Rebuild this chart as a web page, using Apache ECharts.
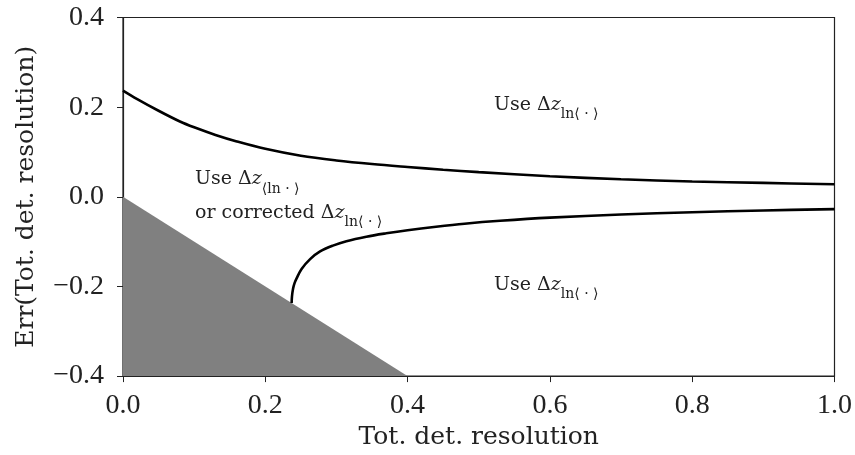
<!DOCTYPE html>
<html>
<head>
<meta charset="utf-8">
<script src="https://cdn.jsdelivr.net/npm/echarts@6/dist/echarts.min.js"></script>
<style>
html, body { margin: 0; padding: 0; background: #fff; }
#main { width: 855px; height: 455px; }
</style>
</head>
<body>
<div id="main"></div>
<script>
// boundary curves
var upperX = [0, 0.02, 0.05, 0.08, 0.10, 0.13, 0.16, 0.20, 0.25, 0.30, 0.35, 0.40, 0.45, 0.50, 0.60, 0.70, 0.80, 0.90, 1.00];
var upperY = [0.237, 0.218, 0.192, 0.168, 0.155, 0.138, 0.1235, 0.107, 0.0915, 0.081, 0.073, 0.0665, 0.0605, 0.055, 0.046, 0.039, 0.034, 0.031, 0.028];
var lowerX = [0.237, 0.2375, 0.239, 0.241, 0.244, 0.251, 0.263, 0.277, 0.295, 0.314, 0.342, 0.37, 0.40, 0.44, 0.48, 0.53, 0.60, 0.70, 0.80, 0.90, 1.00];
var lowerY = [-0.237, -0.222, -0.205, -0.193, -0.182, -0.161, -0.139, -0.122, -0.109, -0.099, -0.089, -0.0815, -0.0746, -0.0668, -0.060, -0.0535, -0.0465, -0.0395, -0.0345, -0.0305, -0.0275];
// shaded (excluded) triangle
var shadeX = [0, 0.4];
var shadeY = [0, -0.4];

function zip(a, b) {
    var out = [];
    for (var i = 0; i < a.length; i++) out.push([a[i], b[i]]);
    return out;
}

var chartDom = document.getElementById('main');
var myChart = echarts.init(chartDom);
var option;

var serif = '"DejaVu Serif", serif';
var tickFont = '"Liberation Serif", serif';
var mainFont = '19px ' + serif;
var italFont = 'italic 19px ' + serif;
var subFont = '14px ' + serif;

var ctx = document.createElement('canvas').getContext('2d');
function textW(t, f) { ctx.font = f; return ctx.measureText(t).width; }

// pieces: [text, font, dy]
function label(x, y, pieces) {
    var els = [];
    var cx = x;
    pieces.forEach(function (p) {
        els.push({ type: 'text', left: cx, top: y + p[2],
                   style: { text: p[0], font: p[1], fill: '#222' } });
        cx += textW(p[0], p[1]);
    });
    return els;
}

var subLn = 'ln\u27e8 \u00b7 \u27e9';
var subAvg = '\u27e8ln \u00b7 \u27e9';

option = {
    animation: false,
    backgroundColor: '#fff',
    grid: {
        left: 123,
        right: 20,
        top: 17.5,
        bottom: 75.5,
        show: true,
        borderColor: '#222',
        borderWidth: 1.2
    },
    xAxis: {
        type: 'value',
        min: 0,
        max: 1,
        interval: 0.2,
        name: 'Tot. det. resolution',
        nameLocation: 'middle',
        nameGap: 46,
        nameTextStyle: { fontFamily: serif, fontSize: 25, color: '#222' },
        axisLine: { show: true, onZero: false, lineStyle: { color: '#222', width: 1.2 } },
        axisTick: { show: true, length: 6, lineStyle: { color: '#222' } },
        axisLabel: {
            margin: 16,
            fontFamily: tickFont,
            fontSize: 28,
            color: '#222',
            formatter: function (v) { return v.toFixed(1); }
        },
        splitLine: { show: false }
    },
    yAxis: {
        type: 'value',
        min: -0.4,
        max: 0.4,
        interval: 0.2,
        name: 'Err(Tot. det. resolution)',
        nameLocation: 'middle',
        nameGap: 84,
        nameTextStyle: { fontFamily: serif, fontSize: 25, color: '#222' },
        axisLine: { show: true, onZero: false, lineStyle: { color: '#222', width: 1.2 } },
        axisTick: { show: true, length: 6, lineStyle: { color: '#222' } },
        axisLabel: {
            margin: 19,
            fontFamily: tickFont,
            fontSize: 28,
            color: '#222',
            formatter: function (v) {
                var s = Math.abs(v).toFixed(1);
                return v < -1e-9 ? '\u2212' + s : s;
            }
        },
        splitLine: { show: false }
    },
    graphic: []
        .concat(label(494, 96, [['Use \u0394', mainFont, 0], ['z', italFont, 0], [subLn, subFont, 11]]))
        .concat(label(494, 276, [['Use \u0394', mainFont, 0], ['z', italFont, 0], [subLn, subFont, 11]]))
        .concat(label(195, 170, [['Use \u0394', mainFont, 0], ['z', italFont, 0], [subAvg, subFont, 12]]))
        .concat(label(195, 204, [['or corrected \u0394', mainFont, 0], ['z', italFont, 0], [subLn, subFont, 11]])),
    series: [
        {
            name: 'excluded',
            type: 'line',
            symbol: 'none',
            data: zip(shadeX, shadeY),
            lineStyle: { width: 0 },
            areaStyle: { color: '#808080', opacity: 1, origin: 'start' },
            z: 1
        },
        {
            name: 'upper',
            type: 'line',
            symbol: 'none',
            smooth: 0.35,
            data: zip(upperX, upperY),
            lineStyle: { color: '#000', width: 2.6 },
            z: 3
        },
        {
            name: 'lower',
            type: 'line',
            symbol: 'none',
            smooth: 0.35,
            data: zip(lowerX, lowerY),
            lineStyle: { color: '#000', width: 2.6 },
            z: 3
        }
    ]
};

option && myChart.setOption(option);
</script>
</body>
</html>
